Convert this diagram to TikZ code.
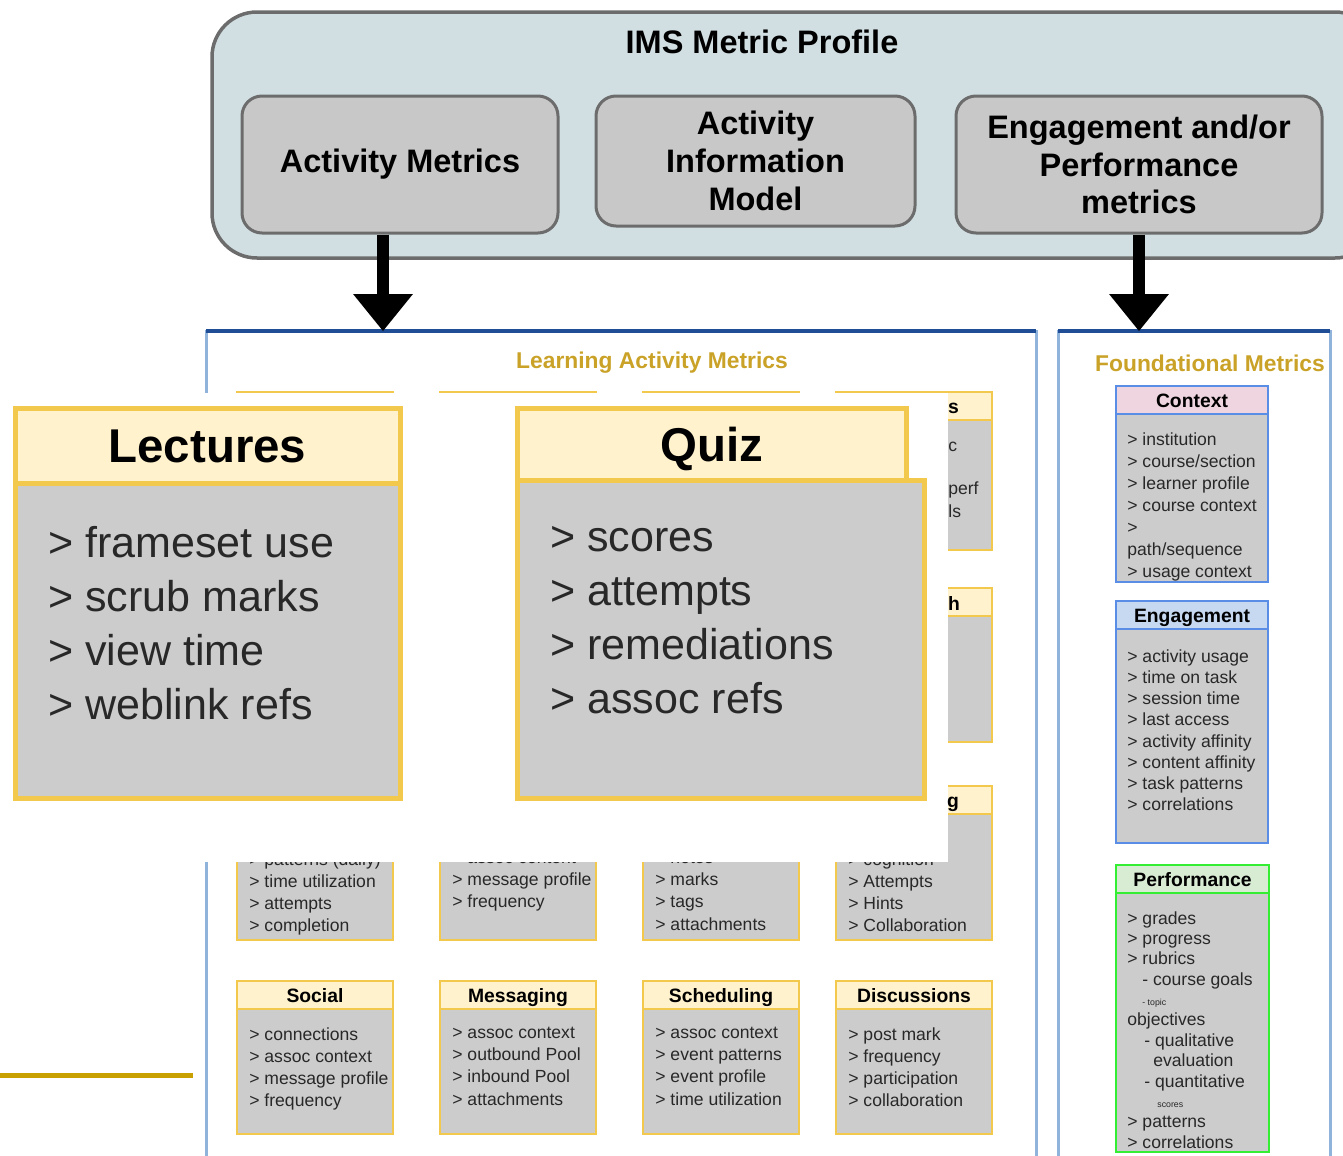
\documentclass[tikz,border=0pt]{standalone}
\usepackage{fontspec}
\setmainfont{Liberation Sans}
\usetikzlibrary{arrows.meta,positioning}
\newlength\px
\setlength\px{0.02cm}
\definecolor{imsfill}{RGB}{209,223,227}
\definecolor{imsline}{RGB}{108,108,108}
\definecolor{boxgray}{RGB}{200,200,200}
\definecolor{paneltop}{RGB}{31,78,150}
\definecolor{sideblue}{RGB}{143,179,218}
\definecolor{goldline}{RGB}{242,201,76}
\definecolor{hdrfill}{RGB}{255,242,204}
\definecolor{bodyfill}{RGB}{204,204,204}
\definecolor{titlegold}{RGB}{201,162,39}
\definecolor{ctxfill}{RGB}{239,213,223}
\definecolor{ctxline}{RGB}{90,142,230}
\definecolor{engfill}{RGB}{198,217,241}
\definecolor{perffill}{RGB}{216,235,211}
\definecolor{perfline}{RGB}{51,238,51}
\definecolor{oldgold}{RGB}{200,160,0}
\definecolor{inktext}{RGB}{40,40,40}
\tikzset{
	imsbox/.style={draw=imsline,line width=3.5\px,fill=imsfill,rounded corners=45\px,inner sep=0pt},
	bigbox/.style={draw=imsline,line width=3\px,fill=boxgray,rounded corners=20\px,inner sep=0pt,align=center,font=\fontsize{18.5}{21.5}\selectfont\bfseries},
	bigtitle/.style={inner sep=0pt,font=\fontsize{18.5}{21.5}\selectfont\bfseries},
	bigarrow/.style={line width=6.8pt,-{Triangle[width=34pt,length=21pt,line width=0pt]}},
	panel/.style={draw=sideblue,line width=3\px,inner sep=0pt,outer sep=0pt},
	panelline/.style={draw=paneltop,line width=4\px},
	paneltitle/.style={inner sep=0pt,text=titlegold,font=\fontsize{13}{15}\selectfont\bfseries},
	hdr/.style={draw=goldline,line width=2.5\px,fill=hdrfill,minimum width=156\px,minimum height=28\px,inner sep=0pt,outer sep=0pt,text height=8pt,text depth=0pt,font=\fontsize{11}{13}\selectfont\bfseries},
	bdy/.style={draw=goldline,line width=2.5\px,fill=bodyfill,minimum width=156\px,inner sep=0pt,outer sep=0pt},
	itemtxt/.style={inner sep=0pt,align=left,text=inktext,font=\fontsize{10}{12.6}\selectfont},
	calhdr/.style={draw=goldline,line width=5\px,fill=hdrfill,inner sep=0pt,outer sep=0pt,text height=19.5pt,text depth=0pt,font=\fontsize{27}{30}\selectfont\bfseries},
	calbdy/.style={draw=goldline,line width=5\px,fill=bodyfill,inner sep=0pt,outer sep=0pt},
	calitem/.style={inner sep=0pt,align=left,text=inktext,font=\fontsize{24.5}{30.8}\selectfont},
	fhdr/.style={line width=2.5\px,minimum width=152\px,minimum height=28\px,inner sep=0pt,outer sep=0pt,text height=8pt,text depth=0pt,font=\fontsize{11}{13}\selectfont\bfseries},
	fbdy/.style={line width=2.5\px,fill=bodyfill,minimum width=152\px,inner sep=0pt,outer sep=0pt},
}
\begin{document}
\begin{tikzpicture}[x=0.02cm,y=-0.02cm]
	\useasboundingbox (0,0) rectangle (1343,1156);
	\clip (0,0) rectangle (1343,1156);
	\node[imsbox,minimum width=1168\px,minimum height=246\px] (ims) at (796,135) {};
	\node[bigtitle] (imst) at (762,42) {IMS Metric Profile};
	\node[bigbox,minimum width=316\px,minimum height=137\px] (am) at (400,164.5) {Activity Metrics};
	\node[bigbox,minimum width=319\px,minimum height=130\px] (aim) at (755.5,161) {Activity\\Information\\Model};
	\node[bigbox,minimum width=366\px,minimum height=137\px] (epm) at (1139,164.5) {Engagement and/or\\Performance\\metrics};
	\node[panel,minimum width=830\px,minimum height=900\px,anchor=north west] (lam) at (206,331) {};
	\draw[panelline] (lam.north west) -- (lam.north east);
	\node[paneltitle] (lamt) at (652,363) {Learning Activity Metrics};
	\node[panel,minimum width=272\px,minimum height=900\px,anchor=north west] (fm) at (1058,331) {};
	\draw[panelline] (fm.north west) -- (fm.north east);
	\node[paneltitle] (fmt) at (1210,363) {Foundational Metrics};
	\coordinate (amout) at ([xshift=-17\px]am.south);
	\draw[bigarrow] (amout) -- (amout |- lam.north);
	\draw[bigarrow] (epm.south) -- (epm.south |- fm.north);
	\foreach \c/\xx in {1/237,2/440,3/643,4/836}{
		\foreach \r/\yy/\hh in {1/392/130,2/588/126,3/786/126}{
			\node[hdr,anchor=north west] (h\r\c) at (\xx,\yy) {};
			\node[bdy,minimum height=\hh\px,below=0pt of h\r\c] (b\r\c) {};
		};
	};
	\foreach \c/\xx/\t in {1/237/Social,2/440/Messaging,3/643/Scheduling,4/836/Discussions}{
		\node[hdr,anchor=north west] (h4\c) at (\xx,981) {\t};
		\node[bdy,minimum height=125\px,below=0pt of h4\c] (b4\c) {};
	};
	\foreach \c/\t in {1/{> connections\\> assoc context\\> message profile\\> frequency},
		2/{> assoc context\\> outbound Pool\\> inbound Pool\\> attachments},
		3/{> assoc context\\> event patterns\\> event profile\\> time utilization},
		4/{> post mark\\> frequency\\> participation\\> collaboration}}{
		\node[itemtxt,anchor=north west] (i4\c) at ([xshift=12\px,yshift=-18\px]b4\c.north west) {\t};
	};
	\foreach \c/\t in {1/{> patterns (daily)\\> time utilization\\> attempts\\> completion},
		2/{> assoc content\\> message profile\\> frequency},
		3/{> notes\\> marks\\> tags\\> attachments},
		4/{> cognition\\> Attempts\\> Hints\\> Collaboration}}{
		\node[itemtxt,anchor=north west] (i3\c) at ([xshift=12\px,yshift=-38\px]b3\c.north west) {\t};
	};
	\fill[white] (0,393) rectangle (948,862);
	\node[hdr,draw=none,fill=none,minimum width=0pt,anchor=west] (f1h) at (948,406) {s};
	\node[itemtxt,anchor=west] (f1a) at (948,447) {c};
	\node[itemtxt,anchor=west] (f1b) at (948,490) {perf};
	\node[itemtxt,anchor=west] (f1c) at (948,511) {ls};
	\node[hdr,draw=none,fill=none,minimum width=0pt,anchor=west] (f2h) at (948,603) {h};
	\node[hdr,draw=none,fill=none,minimum width=0pt,anchor=west] (f3h) at (947,800) {g};
	\draw[line width=5\px,oldgold] (0,1075) -- (193,1075);
	\node[calhdr,minimum width=385\px,minimum height=75\px] (lech) at (207.5,445.5) {Lectures};
	\node[calbdy,minimum width=385\px,minimum height=315\px,below=0pt of lech] (lecb) {};
	\node[calitem,anchor=north west] (leci) at (48,526) {> frameset use\\> scrub marks\\> view time\\> weblink refs};
	\node[calhdr,minimum width=389\px,minimum height=72\px] (quizh) at (711.5,444) {Quiz};
	\node[calbdy,minimum width=407\px,minimum height=318\px,anchor=north west] (quizb) at (517,480) {};
	\node[calitem,anchor=north west] (quizi) at (550,526) {> scores\\> attempts\\> remediations\\> assoc refs};
	\node[fhdr,draw=ctxline,fill=ctxfill,anchor=north west] (ctxh) at (1116,386) {Context};
	\node[fbdy,draw=ctxline,minimum height=168\px,below=0pt of ctxh] (ctxb) {};
	\node[itemtxt,font=\fontsize{10}{12.6}\selectfont,anchor=north west] (ctxi) at ([xshift=11\px,yshift=-18\px]ctxb.north west) {> institution\\> course/section\\> learner profile\\> course context\\>\\path/sequence\\> usage context};
	\node[fhdr,draw=ctxline,fill=engfill,anchor=north west] (engh) at (1116,601) {Engagement};
	\node[fbdy,draw=ctxline,minimum height=214\px,below=0pt of engh] (engb) {};
	\node[itemtxt,font=\fontsize{10}{12.1}\selectfont,anchor=north west] (engi) at ([xshift=11\px,yshift=-20\px]engb.north west) {> activity usage\\> time on task\\> session time\\> last access\\> activity affinity\\> content affinity\\> task patterns\\> correlations};
	\node[fhdr,draw=perfline,fill=perffill,minimum width=153\px,anchor=north west] (perfh) at (1116,865) {Performance};
	\node[fbdy,draw=perfline,minimum width=153\px,minimum height=259\px,below=0pt of perfh] (perfb) {};
	\node[itemtxt,font=\fontsize{10}{11.6}\selectfont,anchor=north west] (perfi) at ([xshift=11\px,yshift=-18\px]perfb.north west) {> grades\\> progress\\> rubrics\\\hspace*{15\px}- course goals\\\hspace*{15\px}{\fontsize{5}{6}\selectfont - topic}\\objectives\\\hspace*{17\px}- qualitative\\\hspace*{26\px}evaluation\\\hspace*{17\px}- quantitative\\\hspace*{30\px}{\fontsize{5}{6}\selectfont scores}\\> patterns\\> correlations};
\end{tikzpicture}
\end{document}
